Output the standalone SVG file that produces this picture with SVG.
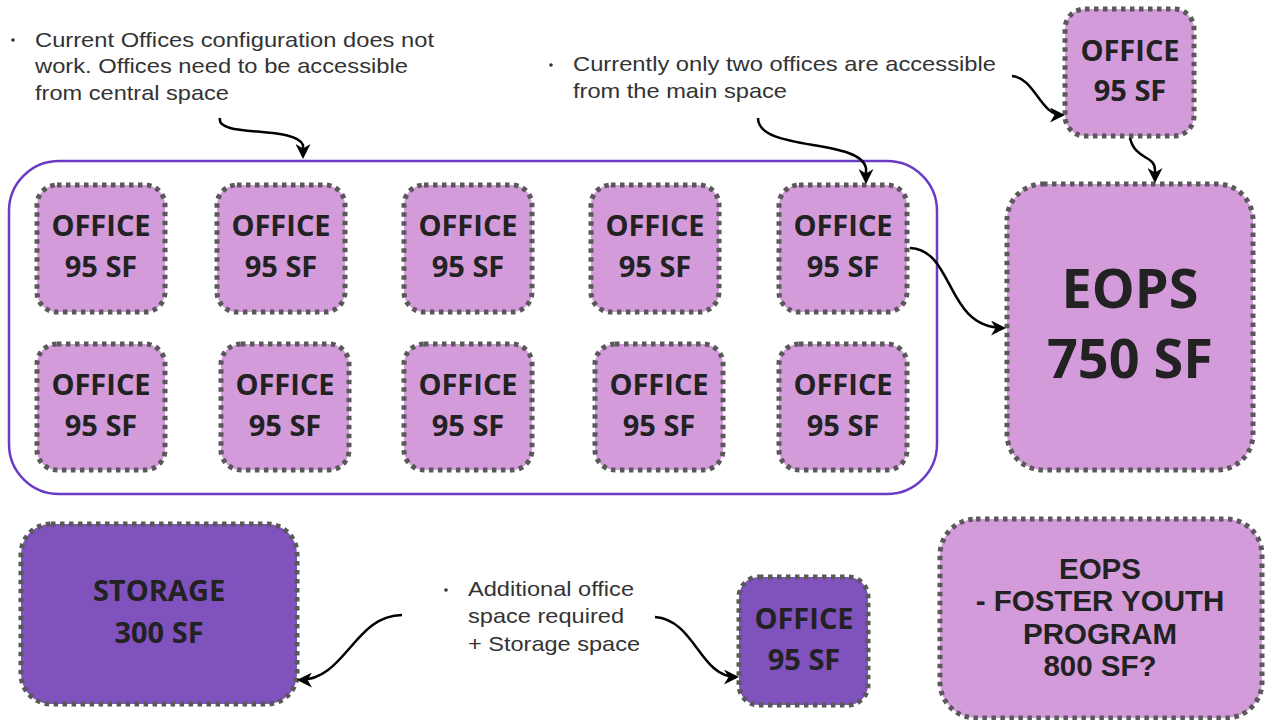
<svg xmlns="http://www.w3.org/2000/svg" width="1266" height="720" viewBox="0 0 1266 720">
<style>
.lt{fill:#d49bdb;stroke:#595959;stroke-width:5;stroke-dasharray:4.5 4.5}
.dk{fill:#8052be;stroke:#595959;stroke-width:5;stroke-dasharray:4.5 4.5}
.bx{font-family:"Open Sans","Noto Sans",sans-serif;font-weight:bold;fill:#222;text-anchor:middle}
.ar{font-family:"Liberation Sans",Arial,sans-serif;font-weight:bold;fill:#222;text-anchor:middle}
.nt{font-family:"Liberation Sans",Arial,sans-serif;font-size:21px;fill:#333}
.cn{fill:none;stroke:#000;stroke-width:2.5;marker-end:url(#ah)}
</style>
<defs>
<marker id="ah" viewBox="0 0 10 10" refX="8" refY="5" markerWidth="6" markerHeight="6" orient="auto" markerUnits="strokeWidth">
<path d="M0,0 L10,5 L0,10 L3,5 z" fill="#000"/>
</marker>
</defs>
<rect width="1266" height="720" fill="#fff"/>
<g id="container"><rect x="9" y="161" width="928" height="333" rx="50" fill="none" stroke="#6a3bc4" stroke-width="2.5"/></g>
<g id="note1" class="nt">
<circle cx="13" cy="40" r="1.8" fill="#333"/>
<text x="35" y="47" textLength="399" lengthAdjust="spacingAndGlyphs">Current Offices configuration does not</text>
<text x="35" y="73" textLength="373" lengthAdjust="spacingAndGlyphs">work. Offices need to be accessible</text>
<text x="35" y="100" textLength="194" lengthAdjust="spacingAndGlyphs">from central space</text>
</g>
<g id="note2" class="nt">
<circle cx="551" cy="65" r="1.8" fill="#333"/>
<text x="573" y="71" textLength="423" lengthAdjust="spacingAndGlyphs">Currently only two offices are accessible</text>
<text x="573" y="98" textLength="214" lengthAdjust="spacingAndGlyphs">from the main space</text>
</g>
<g id="note3" class="nt">
<circle cx="446" cy="590" r="1.8" fill="#333"/>
<text x="468" y="596" textLength="166" lengthAdjust="spacingAndGlyphs">Additional office</text>
<text x="468" y="623" textLength="156" lengthAdjust="spacingAndGlyphs">space required</text>
<text x="468" y="651" textLength="172" lengthAdjust="spacingAndGlyphs">+ Storage space</text>
</g>
<g id="o1"><rect class="lt" x="37" y="185" width="128" height="127" rx="20"/><text class="bx" font-size="29" x="101" y="236">OFFICE</text><text class="bx" font-size="29" x="101" y="277">95 SF</text></g>
<g id="o2"><rect class="lt" x="217" y="185" width="128" height="127" rx="20"/><text class="bx" font-size="29" x="281" y="236">OFFICE</text><text class="bx" font-size="29" x="281" y="277">95 SF</text></g>
<g id="o3"><rect class="lt" x="404" y="185" width="128" height="127" rx="20"/><text class="bx" font-size="29" x="468" y="236">OFFICE</text><text class="bx" font-size="29" x="468" y="277">95 SF</text></g>
<g id="o4"><rect class="lt" x="591" y="185" width="128" height="127" rx="20"/><text class="bx" font-size="29" x="655" y="236">OFFICE</text><text class="bx" font-size="29" x="655" y="277">95 SF</text></g>
<g id="o5"><rect class="lt" x="779" y="185" width="128" height="127" rx="20"/><text class="bx" font-size="29" x="843" y="236">OFFICE</text><text class="bx" font-size="29" x="843" y="277">95 SF</text></g>
<g id="o6"><rect class="lt" x="37" y="344" width="128" height="126" rx="20"/><text class="bx" font-size="29" x="101" y="395">OFFICE</text><text class="bx" font-size="29" x="101" y="436">95 SF</text></g>
<g id="o7"><rect class="lt" x="221" y="344" width="128" height="126" rx="20"/><text class="bx" font-size="29" x="285" y="395">OFFICE</text><text class="bx" font-size="29" x="285" y="436">95 SF</text></g>
<g id="o8"><rect class="lt" x="404" y="344" width="128" height="126" rx="20"/><text class="bx" font-size="29" x="468" y="395">OFFICE</text><text class="bx" font-size="29" x="468" y="436">95 SF</text></g>
<g id="o9"><rect class="lt" x="595" y="344" width="128" height="126" rx="20"/><text class="bx" font-size="29" x="659" y="395">OFFICE</text><text class="bx" font-size="29" x="659" y="436">95 SF</text></g>
<g id="o10"><rect class="lt" x="779" y="344" width="128" height="126" rx="20"/><text class="bx" font-size="29" x="843" y="395">OFFICE</text><text class="bx" font-size="29" x="843" y="436">95 SF</text></g>
<g id="oTop"><rect class="lt" x="1065" y="9" width="129" height="127" rx="20"/><text class="bx" font-size="29" x="1130" y="61">OFFICE</text><text class="bx" font-size="29" x="1130" y="101">95 SF</text></g>
<g id="eops"><rect class="lt" x="1007" y="184" width="246" height="286" rx="36"/><text class="bx" font-size="54" x="1130" y="308">EOPS</text><text class="bx" font-size="54" x="1130" y="378">750 SF</text></g>
<g id="storage"><rect class="dk" x="21" y="524" width="276" height="180" rx="30"/><text class="bx" font-size="29" x="159" y="601">STORAGE</text><text class="bx" font-size="29" x="159" y="643">300 SF</text></g>
<g id="oBot"><rect class="dk" x="739" y="577" width="129" height="128" rx="20"/><text class="bx" font-size="29" x="804" y="629">OFFICE</text><text class="bx" font-size="29" x="804" y="670">95 SF</text></g>
<g id="foster"><rect class="lt" x="940" y="519" width="322" height="199" rx="36"/>
<text class="ar" font-size="29.5" x="1100" y="579">EOPS</text>
<text class="ar" font-size="29.5" x="1100" y="611">- FOSTER YOUTH</text>
<text class="ar" font-size="29.5" x="1100" y="644">PROGRAM</text>
<text class="ar" font-size="29.5" x="1100" y="676">800 SF?</text></g>
<g id="connectors">
<path class="cn" d="M220,118 C215,138 295,125 303,145 L303,156"/>
<path class="cn" d="M758,118 C758,152 860,138 866,168 L866,181"/>
<path class="cn" d="M1012,76 C1035,78 1040,115 1062,115"/>
<path class="cn" d="M1130,138 C1135,160 1155,155 1155,170 L1155,180"/>
<path class="cn" d="M910,248 C955,250 945,328 1003,328"/>
<path class="cn" d="M402,615 C355,615 345,680 300,680"/>
<path class="cn" d="M655,617 C695,620 700,677 736,677"/>
</g>
</svg>
